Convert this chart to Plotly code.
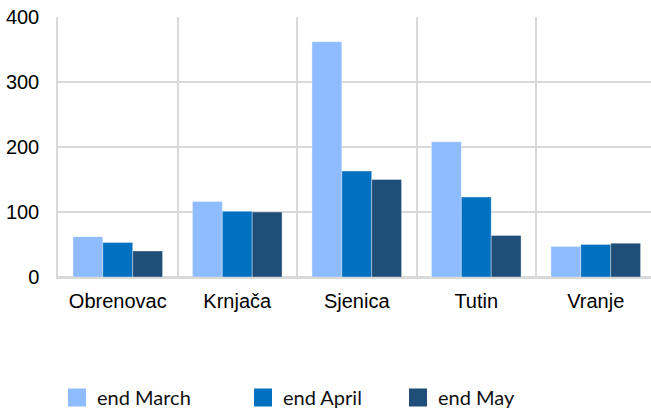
import plotly.graph_objects as go

categories = ["Obrenovac", "Krnjača", "Sjenica", "Tutin", "Vranje"]
series_names = ["end March", "end April", "end May"]
end_march = [62, 116, 362, 208, 47]
end_april = [53, 101, 163, 123, 50]
end_may = [40, 100, 150, 64, 52]
y_ticks = [0, 100, 200, 300, 400]

colors = ["#8FBCFF", "#0070C0", "#1F4E79"]
values = [end_march, end_april, end_may]
legend_ids = ["legend", "legend2", "legend3"]
legend_text_x = [97, 283, 438]

W, H = 651, 409
ml, mr, mt, mb = 58, 0, 17, 132

fig = go.Figure()
for name, vals, col, lid in zip(series_names, values, colors, legend_ids):
    fig.add_trace(go.Bar(
        x=categories, y=vals, name=name,
        marker=dict(color=col, line=dict(color="rgba(255,255,255,0.35)", width=1)),
        showlegend=False,
    ))
    # legend proxy with larger square symbol
    fig.add_trace(go.Scatter(
        x=[None], y=[None], mode="markers", name=name,
        marker=dict(symbol="square", size=16, color=col, line=dict(color=col, width=2)),
        legend=lid, showlegend=True,
    ))

plot_w = W - ml - mr
plot_h = H - mt - mb
cat_w = 119.5
x_range = [-0.5, -0.5 + plot_w / cat_w]

layout_legends = {}
for lid, tx in zip(legend_ids, legend_text_x):
    layout_legends[lid] = dict(
        x=(tx - 40) / W, xref="container", xanchor="left",
        y=(H - 397.5) / H, yref="container", yanchor="middle",
        orientation="h", font=dict(family="Lato", size=20, color="#111111"),
        bgcolor="rgba(0,0,0,0)", itemwidth=30,
    )

fig.update_layout(
    width=W, height=H,
    margin=dict(l=ml, r=mr, t=mt, b=mb, pad=0, autoexpand=False),
    plot_bgcolor="white", paper_bgcolor="white",
    barmode="group", bargap=0.25, bargroupgap=0,
    font=dict(family="Liberation Sans, Arial", size=20, color="#000000"),
    xaxis=dict(
        type="category", range=x_range, tickson="boundaries",
        showgrid=True, gridcolor="#D9D9D9", gridwidth=1.5,
        ticks="", showline=True, linecolor="#D9D9D9", linewidth=1.5,
        tickfont=dict(family="Liberation Sans, Arial", size=20, color="#000000"),
        ticklabelstandoff=5, zeroline=False, automargin=False,
    ),
    yaxis=dict(
        range=[0, 400], tickvals=y_ticks, ticktext=[str(v) for v in y_ticks],
        showgrid=True, gridcolor="#D9D9D9", gridwidth=1.5,
        zeroline=True, zerolinecolor="#D9D9D9", zerolinewidth=1.5,
        showline=True, linecolor="#D9D9D9", linewidth=1.5,
        ticks="", tickfont=dict(family="Liberation Sans, Arial", size=20, color="#000000"),
        ticklabelstandoff=13, automargin=False,
    ),
    **layout_legends,
)

fig.write_html(
    "out.html",
    config={"displayModeBar": False},
    post_script="document.body.style.margin='0';document.body.style.overflow='hidden';",
)
